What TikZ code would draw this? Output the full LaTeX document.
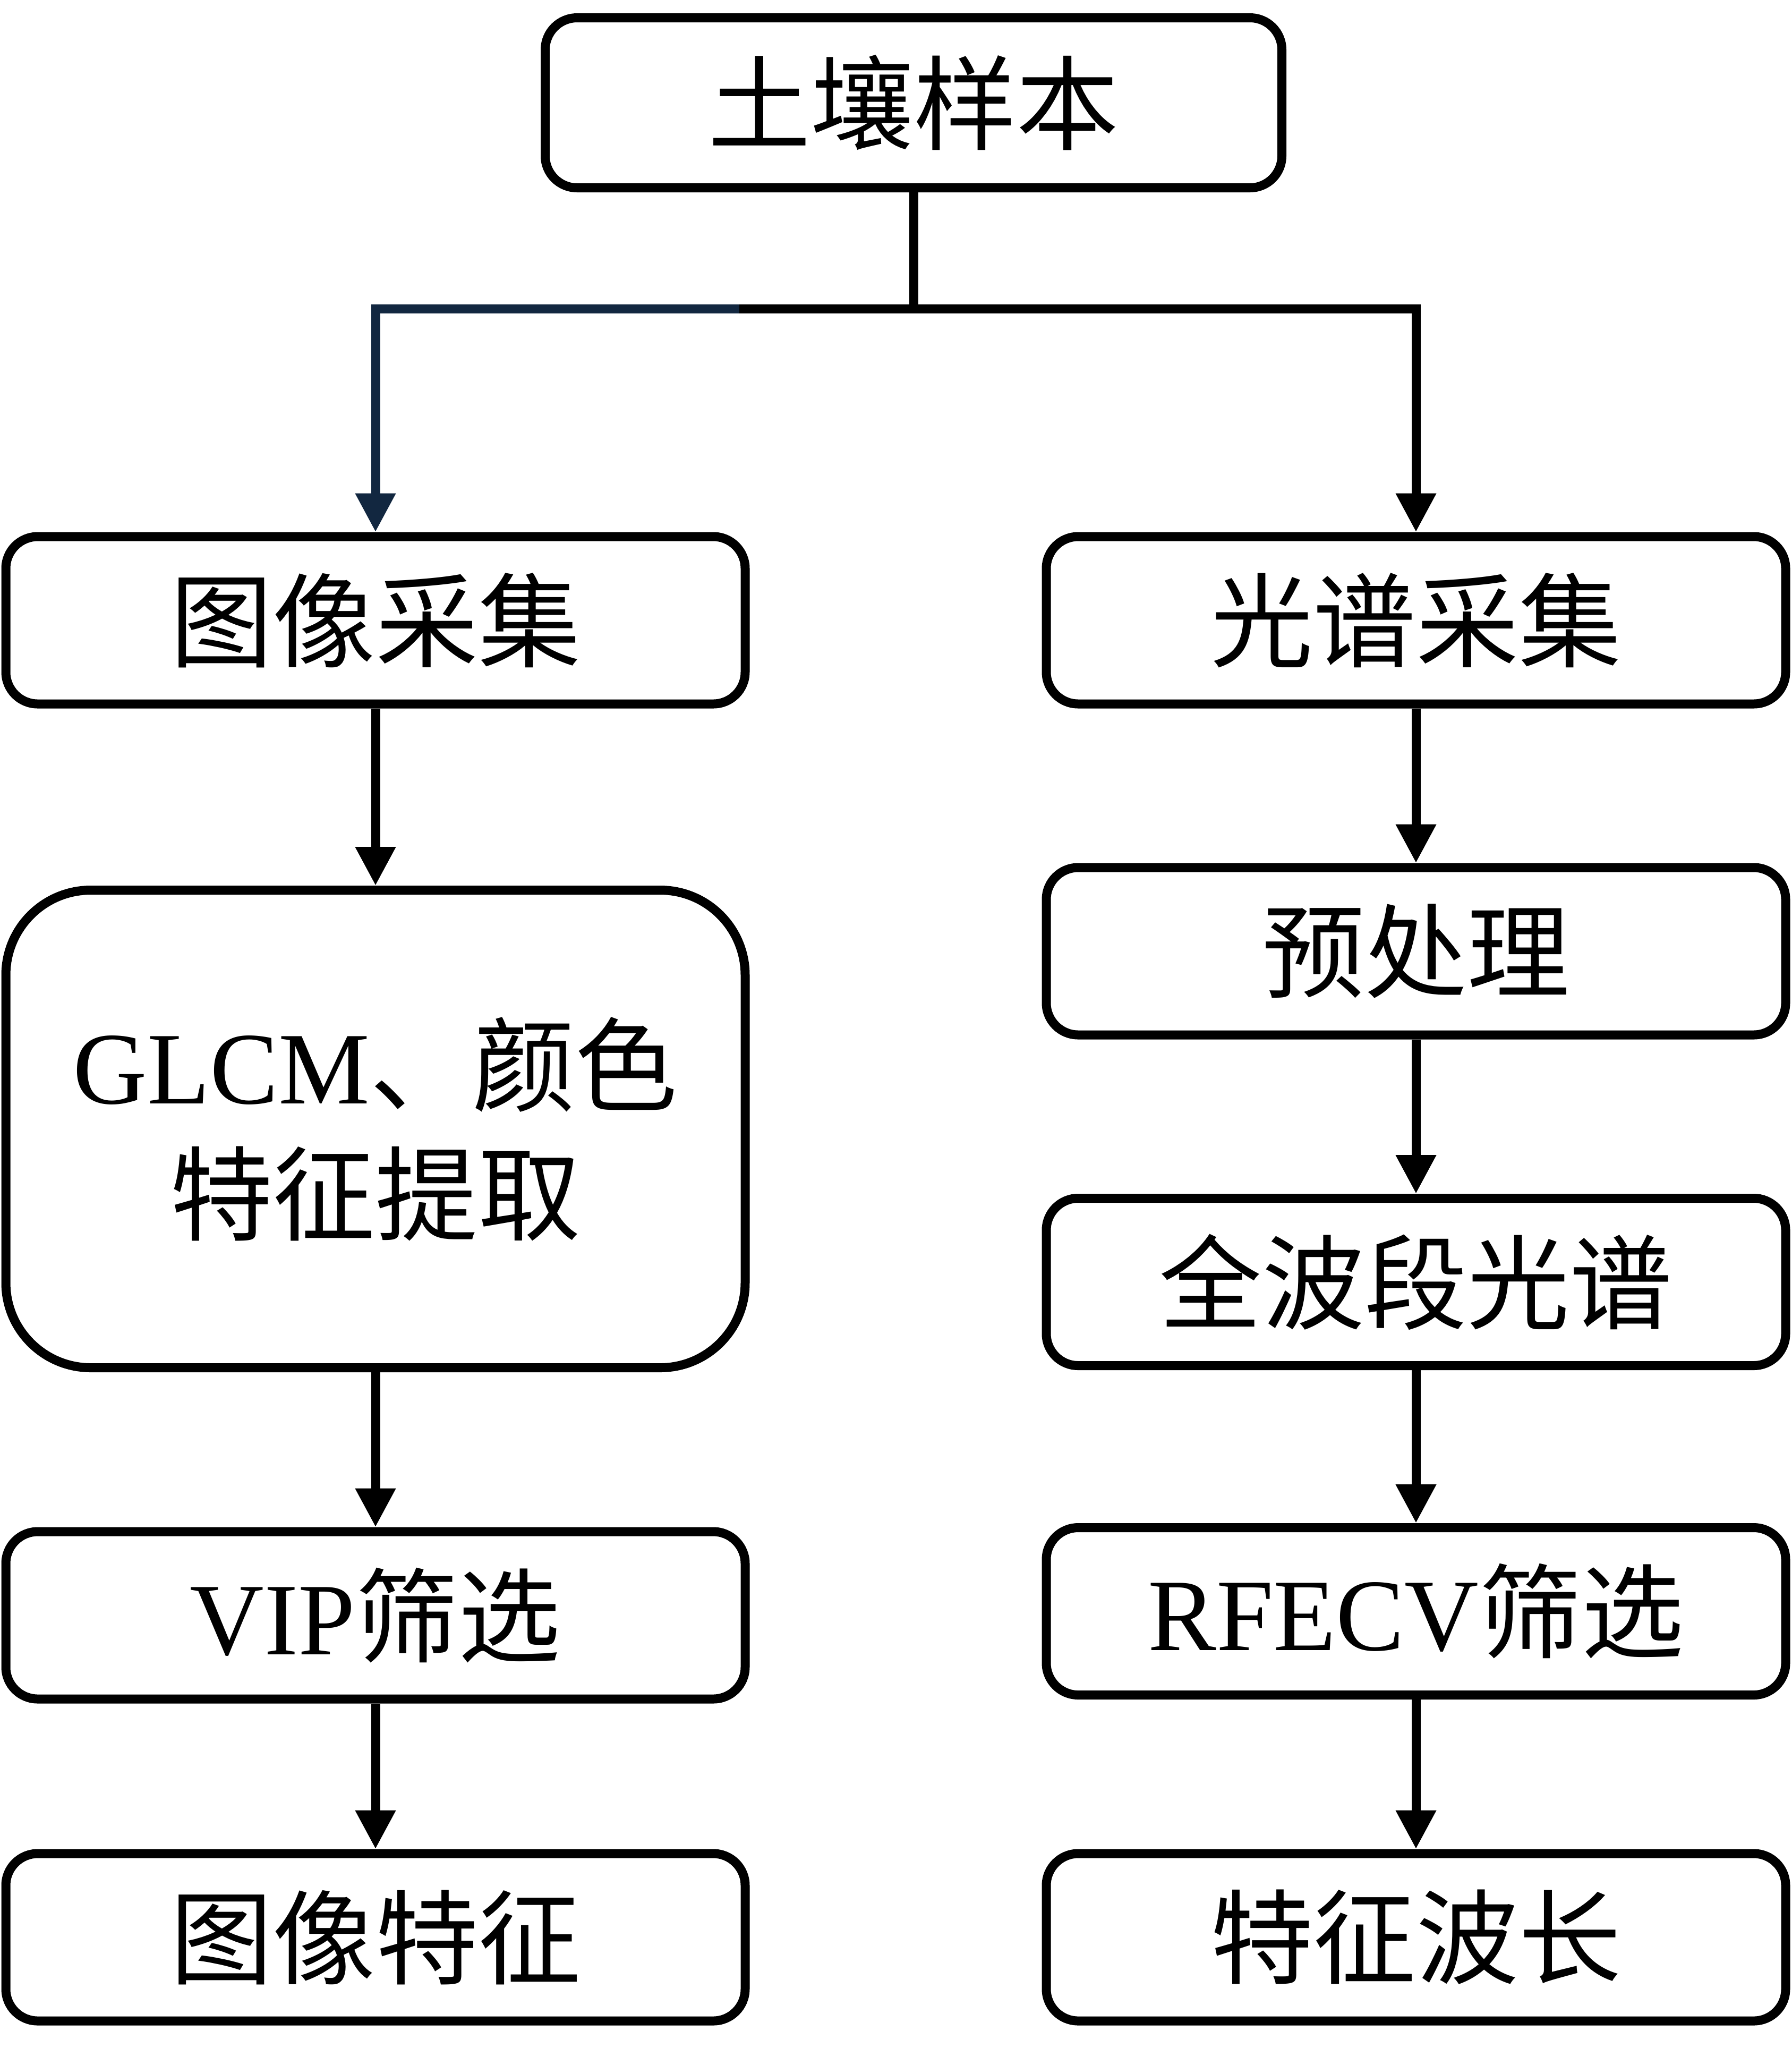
\documentclass[tikz,border=0pt]{standalone}
\usepackage{fontspec}
\setmainfont{Liberation Serif}
\newfontfamily\cjk{Noto Sans CJK SC}
\usetikzlibrary{arrows.meta}
\definecolor{navy}{RGB}{18,39,64}

\begin{document}
\begin{tikzpicture}[>={Triangle[length=7.3mm, width=7.2mm]},
  box/.style={draw, line width=1.7mm, rounded corners=6mm, minimum width=13.92cm,
    minimum height=3.15cm, inner sep=0pt, align=center,
    font=\cjk\fontsize{55}{69}\selectfont},
  flow/.style={->, line width=1.7mm}]
  \useasboundingbox (0,0) rectangle (33.73,-38.87);
  % Sample
  \node[box, minimum width=13.87cm, minimum height=3.2cm] (soil) at (17.2,-1.935) {土壤样本};
  % Image branch
  \node[box] (imgcap) at (7.07,-11.675) {图像采集};
  \node[box, rounded corners=16mm, minimum height=8.99cm] (glcm) at (7.07,-21.25)
    {{\rmfamily GLCM}、颜色\\特征提取};
  \node[box] (vip) at (7.07,-30.405) {{\rmfamily VIP}筛选};
  \node[box] (imgfeat) at (7.07,-36.465) {图像特征};
  % Spectral branch
  \node[box] (speccap) at (26.66,-11.675) {光谱采集};
  \node[box] (prep) at (26.66,-17.905) {预处理};
  \node[box] (fullspec) at (26.66,-24.13) {全波段光谱};
  \node[box] (rfecv) at (26.66,-30.33) {{\rmfamily RFECV}筛选};
  \node[box] (wave) at (26.66,-36.465) {特征波长};
  % Split
  \coordinate (split) at (soil.south |- 0,-5.81);
  \coordinate (bend) at (13.92,-5.81);
  \draw[line width=1.7mm] (soil) -- (split);
  \draw[flow, navy] (bend) -| (imgcap);
  \draw[flow] (bend) -| (speccap);
  % Arrows
  \draw[flow] (imgcap) -- (glcm);
  \draw[flow] (glcm) -- (vip);
  \draw[flow] (vip) -- (imgfeat);
  \draw[flow] (speccap) -- (prep);
  \draw[flow] (prep) -- (fullspec);
  \draw[flow] (fullspec) -- (rfecv);
  \draw[flow] (rfecv) -- (wave);
\end{tikzpicture}
\end{document}
